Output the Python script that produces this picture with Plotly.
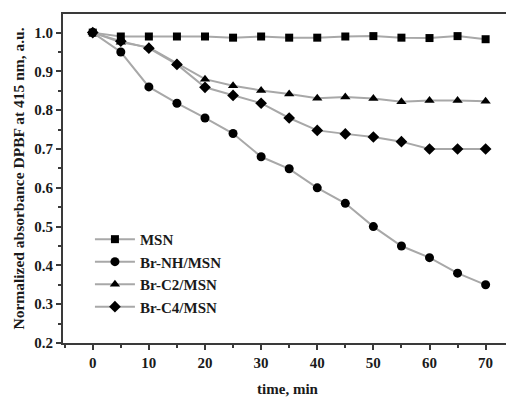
import plotly.graph_objects as go

time = [0, 5, 10, 15, 20, 25, 30, 35, 40, 45, 50, 55, 60, 65, 70]
msn = [1.0, 0.99, 0.99, 0.99, 0.99, 0.987, 0.99, 0.987, 0.987, 0.99, 0.991, 0.987, 0.986, 0.991, 0.983]
br_nh = [1.0, 0.95, 0.86, 0.818, 0.78, 0.74, 0.68, 0.649, 0.60, 0.56, 0.50, 0.45, 0.42, 0.38, 0.35]
br_c2 = [1.0, 0.975, 0.962, 0.92, 0.88, 0.863, 0.851, 0.842, 0.831, 0.834, 0.83, 0.822, 0.825, 0.825, 0.823]
br_c4 = [1.0, 0.978, 0.96, 0.918, 0.859, 0.838, 0.818, 0.78, 0.748, 0.739, 0.731, 0.719, 0.70, 0.70, 0.70]

series = [
    ("MSN", msn, "square"),
    ("Br-NH/MSN", br_nh, "circle"),
    ("Br-C2/MSN", br_c2, "triangle-up"),
    ("Br-C4/MSN", br_c4, "diamond"),
]

font_family = "Liberation Serif, Times New Roman, serif"

fig = go.Figure()
for name, vals, sym in series:
    fig.add_trace(go.Scatter(
        x=time, y=vals, name=name, mode="lines+markers",
        line=dict(color="#a8a8a8", width=2),
        marker=dict(symbol=sym, color="black", size=9 if sym != "square" else 8,
                    line=dict(width=0)),
    ))

axis_common = dict(
    showline=True, linecolor="#3a3a3a", linewidth=2, mirror=True,
    ticks="outside", ticklen=5, tickwidth=1.5, tickcolor="#3a3a3a",
    showgrid=False, zeroline=False, automargin=False,
    tickfont=dict(family=font_family, size=15, color="#1a1a1a", weight="bold"),
)

fig.update_layout(
    width=506, height=389,
    margin=dict(l=55, r=2, t=6, b=54),
    paper_bgcolor="white", plot_bgcolor="white",
    font=dict(family=font_family, color="#222"),
    xaxis=dict(
        range=[-5.3, 74.7], tickvals=[0, 10, 20, 30, 40, 50, 60, 70],
        minor=dict(ticks="outside", ticklen=3, tickwidth=1.5, tickcolor="#3a3a3a", dtick=5, tick0=0),
        title=dict(text="time, min", font=dict(family=font_family, size=15, color="#1a1a1a", weight="bold"), standoff=14),
        **axis_common,
    ),
    yaxis=dict(
        range=[0.2, 1.048], tickvals=[0.2, 0.3, 0.4, 0.5, 0.6, 0.7, 0.8, 0.9, 1.0],
        tickformat=".1f",
        minor=dict(ticks="outside", ticklen=3, tickwidth=1.5, tickcolor="#3a3a3a", dtick=0.05, tick0=0.2),
        title=dict(text="Normalized absorbance DPBF at 415 nm, a.u.",
                   font=dict(family=font_family, size=15.5, color="#1a1a1a", weight="bold"), standoff=6),
        **axis_common,
    ),
    legend=dict(
        x=0.06, y=0.365, xanchor="left", yanchor="top",
        bgcolor="rgba(0,0,0,0)", borderwidth=0,
        font=dict(family=font_family, size=15, color="#1a1a1a", weight="bold"),
        tracegroupgap=0, itemwidth=40,
    ),
)

fig.write_html("out.html")
